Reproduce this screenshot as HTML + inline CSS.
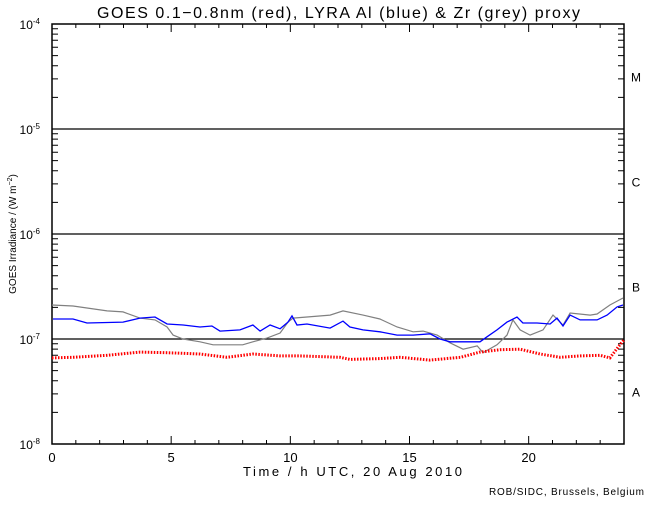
<!DOCTYPE html>
<html><head><meta charset="utf-8"><style>
body{margin:0;background:#fff}
svg text{font-family:"Liberation Sans",sans-serif;fill:#000}
</style></head><body>
<svg id="c" width="650" height="500" xmlns="http://www.w3.org/2000/svg">
<text x="97" y="18" textLength="483" lengthAdjust="spacing" font-size="16">GOES 0.1−0.8nm (red), LYRA Al (blue) &amp; Zr (grey) proxy</text>
<text x="243" y="476" textLength="219" lengthAdjust="spacing" font-size="13">Time / h UTC, 20 Aug 2010</text>
<text transform="translate(16,234) rotate(-90)" text-anchor="middle" font-size="10">GOES Irradiance / (W m<tspan dy="-4" font-size="7">−2</tspan><tspan dy="4">)</tspan></text>
<text x="489" y="495" textLength="155" lengthAdjust="spacing" font-size="10">ROB/SIDC, Brussels, Belgium</text>
<g id="axes"></g>
<g id="series"></g>
</svg>
<script>
const hoursBlue=[0.04,0.88,1.47,2.98,3.69,4.32,4.83,5.5,6.21,6.71,7.05,7.89,8.43,8.73,9.15,9.57,9.9,10.07,10.28,10.7,11.67,12.21,12.5,13.05,13.76,14.48,15.15,15.86,16.28,16.7,17.25,17.96,18.25,18.67,19.09,19.51,19.76,20.35,20.9,21.19,21.44,21.74,22.16,22.87,23.29,23.71,23.96];
const blueValues=[1.55e-7,1.55e-7,1.42e-7,1.45e-7,1.58e-7,1.62e-7,1.39e-7,1.36e-7,1.30e-7,1.33e-7,1.19e-7,1.22e-7,1.36e-7,1.19e-7,1.36e-7,1.25e-7,1.45e-7,1.66e-7,1.36e-7,1.39e-7,1.27e-7,1.48e-7,1.30e-7,1.22e-7,1.17e-7,1.09e-7,1.09e-7,1.12e-7,1.0e-7,0.94e-7,0.94e-7,0.94e-7,1.05e-7,1.22e-7,1.45e-7,1.62e-7,1.42e-7,1.42e-7,1.39e-7,1.58e-7,1.33e-7,1.69e-7,1.52e-7,1.52e-7,1.69e-7,2.02e-7,2.11e-7];
const hoursGrey=[0,0.88,2.31,2.98,3.69,4.32,4.83,5.08,5.5,6.21,6.76,7.34,8.0,8.43,9.02,9.57,9.9,10.11,10.7,11.67,12.21,13.05,13.76,14.48,15.15,15.57,16.16,16.7,17.25,17.84,18.09,18.67,19.09,19.34,19.64,20.06,20.6,21.02,21.44,21.74,22.58,22.87,23.41,23.96];
const greyValues=[2.11e-7,2.06e-7,1.85e-7,1.81e-7,1.58e-7,1.52e-7,1.30e-7,1.09e-7,1.0e-7,0.94e-7,0.88e-7,0.88e-7,0.88e-7,0.94e-7,1.02e-7,1.14e-7,1.45e-7,1.58e-7,1.62e-7,1.69e-7,1.85e-7,1.69e-7,1.55e-7,1.30e-7,1.17e-7,1.19e-7,1.09e-7,0.92e-7,0.80e-7,0.86e-7,0.74e-7,0.88e-7,1.09e-7,1.52e-7,1.22e-7,1.09e-7,1.22e-7,1.69e-7,1.36e-7,1.77e-7,1.69e-7,1.73e-7,2.11e-7,2.46e-7];
const hoursRed=[0,0.88,2.31,3.69,4.83,6.21,7.34,8.43,9.57,10.4,12.08,12.5,13.76,14.6,15.86,17.13,17.96,18.8,19.64,20.48,21.32,22.16,23.0,23.41,23.83,24];
const redValues=[0.66e-7,0.67e-7,0.70e-7,0.75e-7,0.74e-7,0.72e-7,0.67e-7,0.72e-7,0.69e-7,0.69e-7,0.67e-7,0.64e-7,0.65e-7,0.67e-7,0.63e-7,0.67e-7,0.75e-7,0.79e-7,0.80e-7,0.72e-7,0.67e-7,0.69e-7,0.70e-7,0.66e-7,0.88e-7,0.98e-7];
const xTickLabels=["0","5","10","15","20"];
const yDecades=[-8,-7,-6,-5,-4];
const classLetters=["A","B","C","M"];

const NS="http://www.w3.org/2000/svg";
const X0=52,X1=624,Y0=444,Y1=24;
const xs=h=>X0+(X1-X0)*h/24;
const ys=v=>Y0-(Y0-Y1)*(Math.log10(v)+8)/4;
function mk(tag,attrs,parent){const e=document.createElementNS(NS,tag);for(const k in attrs)e.setAttribute(k,attrs[k]);parent.appendChild(e);return e;}
const ax=document.getElementById('axes'),sg=document.getElementById('series');
let frame=mk('rect',{x:X0,y:Y1,width:X1-X0,height:Y0-Y1,fill:'none',stroke:'#000','stroke-width':1.5},ax);


for(let h=0;h<=24;h++){
  const L=(h%5===0)?8:4,x=xs(h);
  const t=mk('path',{d:`M${x},${Y0}v${-L}M${x},${Y1}v${L}`,stroke:'#000','stroke-width':1},ax);
  
  
}
xTickLabels.forEach(s=>{
  const t=mk('text',{x:xs(+s),y:462,'text-anchor':'middle','font-size':13},ax);t.textContent=s;
  
  
});
yDecades.forEach((d,i)=>{
  const y=ys(Math.pow(10,d));
  const lab=mk('text',{x:40,y:y+5,'text-anchor':'end','font-size':12},ax);
  lab.innerHTML='10<tspan dy="-5" font-size="8">'+d+'</tspan>';
  
  
  if(d<-4){
    for(let m=2;m<=9;m++){const yy=ys(m*Math.pow(10,d));
      const t=mk('path',{d:`M${X0},${yy}h6M${X1},${yy}h-6`,stroke:'#000','stroke-width':1},ax);
      
      }
  }
  if(d>-8&&d<-4){
    const g=mk('line',{x1:X0,x2:X1,y1:y,y2:y,stroke:'#000','stroke-width':1.2},ax);
    
    
  }
});
classLetters.forEach((c,i)=>{
  const y=(ys(Math.pow(10,-8+i))+ys(Math.pow(10,-7+i)))/2+5;
  const t=mk('text',{x:636,y:y,'text-anchor':'middle','font-size':12},ax);t.textContent=c;
  
  
});
function line(hs,vs,color,w,name,dash){
  const p=mk('polyline',{points:hs.map((h,i)=>xs(h).toFixed(1)+','+ys(vs[i]).toFixed(1)).join(' '),fill:'none',stroke:color,'stroke-width':w},sg);
  if(dash)p.setAttribute('stroke-dasharray',dash);
  
  
}
line(hoursGrey,greyValues,'#808080',1.2,'zr-proxy-line');
line(hoursBlue,blueValues,'#0000ff',1.3,'al-proxy-line');
line(hoursRed,redValues,'#ff0000',3,'goes-line','1.5 1.5');
</script>
</body></html>
